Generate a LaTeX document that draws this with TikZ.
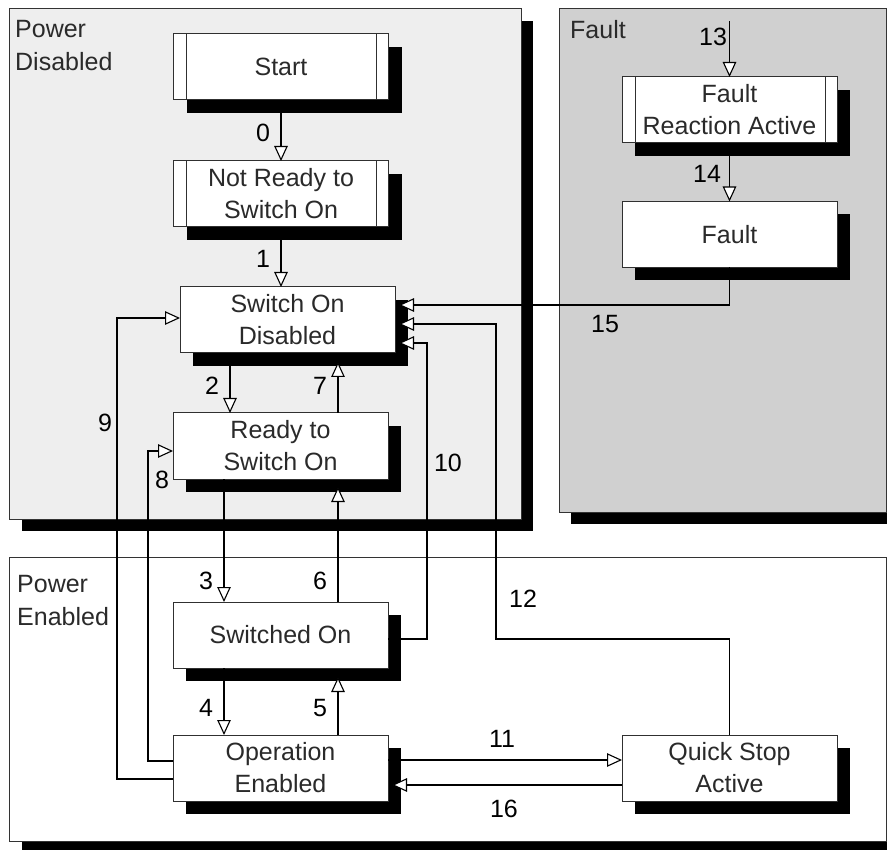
\documentclass[tikz,border=0pt]{standalone}
\usepackage{fontspec}
\setmainfont{Liberation Sans}
\usetikzlibrary{arrows.meta,shadows,calc}
\definecolor{pdgray}{HTML}{EEEEEE}
\definecolor{fgray}{HTML}{D0D0D0}
\definecolor{bordergray}{HTML}{303030}
\definecolor{txtgray}{HTML}{2A2A2A}
\begin{document}
\begin{tikzpicture}[x=1pt,y=-1pt,
  panel/.style={draw=black!80, line width=1pt, inner sep=0pt, outer sep=0pt, anchor=north west,
    general shadow={shadow xshift=12pt, shadow yshift=-12pt, fill=black}},
  state/.style={draw=bordergray, line width=1pt, fill=white, minimum width=215pt, minimum height=66pt,
    inner sep=0pt, outer sep=0pt, align=center, text=txtgray, font=\fontsize{25}{32}\selectfont,
    general shadow={shadow xshift=13pt, shadow yshift=-13pt, fill=black}},
  bar/.style={draw=bordergray, line width=1pt},
  arr/.style={line width=1.2pt, line join=miter, -{Triangle[fill=white, length=15pt, width=13.5pt, line width=1.1pt]}},
  lbl/.style={inner sep=0pt, text=black, font=\fontsize{25}{30}\selectfont},
  ptext/.style={inner sep=0pt, anchor=north west, align=left, text=txtgray, font=\fontsize{25}{33}\selectfont}
]
\useasboundingbox (0,0) rectangle (887,850);

% panels
\node[panel, fill=pdgray, minimum width=511.5pt, minimum height=510pt] (pd) at (9.5,9) {};
\node[panel, fill=fgray, minimum width=327pt, minimum height=503pt] (pf) at (559,9) {};
\node[panel, fill=white, minimum width=876.5pt, minimum height=284pt] (pe) at (9.5,557) {};

\node[ptext] (tpd) at (15,20) {Power\\Disabled};
\node[ptext] (tpf) at (570,20) {Fault};
\node[ptext] (tpe) at (17,575) {Power\\Enabled};

% states
\node[state] (start) at (281,67) {Start};
\node[state] (nr) at (281,194) {Not Ready to\\Switch On};
\node[state] (sod) at (287.5,320) {Switch On\\Disabled};
\node[state] (rtso) at (280.5,446) {Ready to\\Switch On};
\node[state] (swon) at (280.5,635) {Switched On};
\node[state] (oe) at (280.5,768) {Operation\\Enabled};
\node[state] (qsa) at (729.5,768) {Quick Stop\\Active};
\node[state] (fra) at (729.5,110) {Fault\\Reaction Active};
\node[state] (fault) at (729.5,234.5) {Fault};

% inner bars
\foreach \n in {start,nr,fra}{
  \draw[bar] ([xshift=13pt]\n.north west) -- ([xshift=13pt]\n.south west);
  \draw[bar] ([xshift=-12pt]\n.north east) -- ([xshift=-12pt]\n.south east);
}

% helper coordinates
\coordinate (c2) at (230,0);
\coordinate (c3) at (224,0);
\coordinate (c7) at (338,0);
\coordinate (c9) at (117,318);
\coordinate (c8) at (148,451);
\coordinate (c10) at (427,343);
\coordinate (c12a) at (0,639);
\coordinate (c12b) at (496,324);
\coordinate (c15) at (0,305);
\coordinate (c13) at (729.5,21);

% connectors
\draw[arr] (start.south) -- (nr.north);
\draw[arr] (nr.south) -- (nr.south |- sod.north);
\draw[arr] (sod.south -| c2) -- (rtso.north -| c2);
\draw[arr] (rtso.north -| c7) -- ($(sod.south -| c7)+(0,9)$);
\draw[arr] (rtso.south -| c3) -- (swon.north -| c3);
\draw[arr] (swon.north -| c7) -- ($(rtso.south -| c7)+(0,8)$);
\draw[arr] (swon.south -| c3) -- (oe.north -| c3);
\draw[arr] (oe.north -| c7) -- ($(swon.south -| c7)+(0,9)$);
\draw[arr] ($(oe.west)+(0,11)$) -| (c9) -- (c9 -| sod.west);
\draw[arr] ($(oe.west)+(0,-7)$) -| (c8) -- (c8 -| rtso.west);
\draw[arr] ($(swon.east)+(0,4)$) -| (c10) -- ($(c10 -| sod.east)+(4,0)$);
\draw[arr] (qsa.north) -- (qsa.north |- c12a) -| (c12b) -- ($(c12b -| sod.east)+(4,0)$);
\draw[arr] (fault.south) |- ($(c15 -| sod.east)+(4,0)$);
\draw[arr] ($(oe.east)+(0,-8)$) -- ($(qsa.west)+(0,-8)$);
\draw[arr] ($(qsa.west)+(0,17)$) -- ($(oe.east)+(4,17)$);
\draw[arr] (c13) -- (fra.north);
\draw[arr] (fra.south) -- (fault.north);

% labels
\node[lbl] (l0) at (263,133) {0};
\node[lbl] (l1) at (263,259) {1};
\node[lbl] (l2) at (212,386) {2};
\node[lbl] (l7) at (320,386) {7};
\node[lbl] (l9) at (105,423) {9};
\node[lbl] (l8) at (162,480) {8};
\node[lbl] (l10) at (448,463) {10};
\node[lbl] (l3) at (206,581) {3};
\node[lbl] (l6) at (320,581) {6};
\node[lbl] (l4) at (206,708) {4};
\node[lbl] (l5) at (320,708) {5};
\node[lbl] (l11) at (502,739) {11};
\node[lbl] (l16) at (504,809) {16};
\node[lbl] (l12) at (523,599) {12};
\node[lbl] (l13) at (713,37) {13};
\node[lbl] (l14) at (707,174) {14};
\node[lbl] (l15) at (605,324) {15};
\end{tikzpicture}
\end{document}
